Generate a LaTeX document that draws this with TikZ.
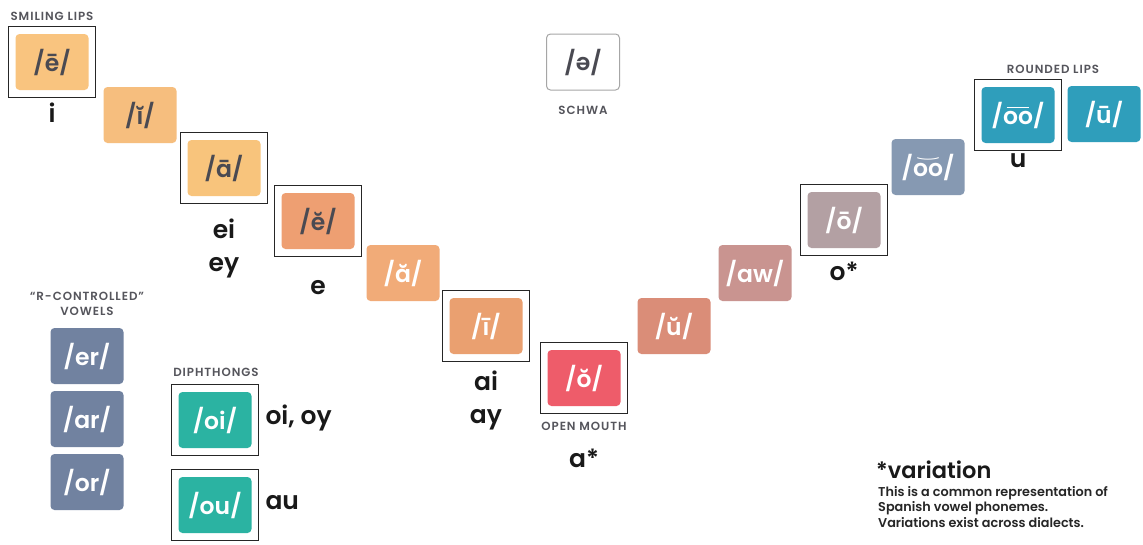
\documentclass[tikz,border=0pt]{standalone}
\usepackage{fontspec}
\usepackage{graphicx}
\setmainfont{Poppins}
\newfontfamily\semifont{Poppins SemiBold}
\newfontfamily\capfont{Poppins SemiBold}[LetterSpace=8]
\usetikzlibrary{fit}

% macron / breve spanning two letters
\newcommand\dmac[1]{\setbox0\hbox{#1}\makebox[0pt][l]{\hspace{0.12\wd0}\raisebox{0.66em}{\rule{0.76\wd0}{0.075em}}}\box0}
\newcommand\dbrv[1]{\setbox0\hbox{#1}\makebox[0pt][l]{\hspace{0.14\wd0}\raisebox{0.6em}{\resizebox*{0.72\wd0}{0.18em}{\rotatebox[origin=c]{-90}{)}}}}\box0}
\newcommand\schwa{\rotatebox[origin=c]{180}{e}}

\definecolor{darktxt}{HTML}{4A4A52}
\definecolor{captxt}{HTML}{55555C}
\definecolor{cEe}{HTML}{F9C47F}
\definecolor{cIi}{HTML}{F6BE7E}
\definecolor{cAa}{HTML}{F8C47C}
\definecolor{cEb}{HTML}{EE9F72}
\definecolor{cAb}{HTML}{F1AB78}
\definecolor{cIl}{HTML}{EAA070}
\definecolor{cOb}{HTML}{EE5C6A}
\definecolor{cUb}{HTML}{DA8D78}
\definecolor{cAw}{HTML}{C99490}
\definecolor{cOl}{HTML}{B3A0A3}
\definecolor{cOOs}{HTML}{8699B2}
\definecolor{cOOl}{HTML}{2F9EBB}
\definecolor{cR}{HTML}{7182A0}
\definecolor{cDi}{HTML}{2BB3A2}

\begin{document}
\begin{tikzpicture}[x=1pt,y=-1pt,
  vbox/.style={rounded corners=4pt, minimum width=73pt, minimum height=56pt,
    inner sep=0pt, text=white, font=\semifont\fontsize{23.5}{23.5}\selectfont},
  darkbox/.style={vbox, text=darktxt},
  frame/.style={draw=black!85, line width=1.3pt, inner sep=7pt},
  spell/.style={font=\semifont\fontsize{25}{33}\selectfont, text=black!90, align=center},
  caps/.style={font=\capfont\fontsize{11.8}{15}\selectfont, text=captxt, align=center},
  note/.style={font=\semifont\fontsize{12.8}{15}\selectfont, text=black!85, anchor=west, inner sep=0pt}]
\useasboundingbox (0,0) rectangle (1143,544);
\fill[white] (0,0) rectangle (1143,544);

% the vowel valley, from smiling lips to rounded lips
\node[darkbox, fill=cEe] (ee) at (52,62) {/ē/};
\node[darkbox, fill=cIi] (ib) at (140,115) {/ĭ/};
\node[darkbox, fill=cAa] (al) at (224,168) {/ā/};
\node[darkbox, fill=cEb] (eb) at (318,221) {/ĕ/};
\node[vbox, fill=cAb] (ab) at (403,273) {/ă/};
\node[vbox, fill=cIl] (il) at (486,326) {/ī/};
\node[vbox, fill=cOb] (ob) at (584,378) {/ŏ/};
\node[vbox, fill=cUb] (ub) at (674,326) {/ŭ/};
\node[vbox, fill=cAw] (aw) at (755,273) {/aw/};
\node[vbox, fill=cOl] (ol) at (844,220) {/ō/};
\node[vbox, fill=cOOs] (oos) at (928,167) {/\dbrv{oo}/};
\node[vbox, fill=cOOl] (ool) at (1018,115) {/\dmac{oo}/};
\node[vbox, fill=cOOl] (ul) at (1104,114) {/ū/};

% schwa
\node[darkbox, fill=white, draw=black!35, line width=1pt] (schwa) at (583,62) {/\schwa/};
\node[caps] (schwalbl) at (583,110) {SCHWA};

% frames around the Spanish vowels
\node[frame, fit=(ee)] (fee) {};
\node[frame, fit=(al)] (fal) {};
\node[frame, fit=(eb)] (feb) {};
\node[frame, fit=(il)] (fil) {};
\node[frame, fit=(ob)] (fob) {};
\node[frame, fit=(ol)] (fol) {};
\node[frame, fit=(ool)] (fool) {};

% captions
\node[caps] (smile) at (52,16) {SMILING LIPS};
\node[caps] (round) at (1053,69) {ROUNDED LIPS};
\node[caps] (open) at (584,426) {OPEN MOUTH};

% Spanish spellings
\node[spell] (si) at (52,113) {i};
\node[spell] (sei) at (224,248) {ei\\ey};
\node[spell] (se) at (318,288) {e};
\node[spell] (sai) at (486,400) {ai\\ay};
\node[spell] (sa) at (584,458) {a*};
\node[spell] (so) at (844,271) {o*};
\node[spell] (su) at (1018,161) {u};

% r-controlled vowels
\node[caps] (rlbl) at (87,304) {“R-CONTROLLED”\\VOWELS};
\node[vbox, fill=cR] (er) at (87,356) {/er/};
\node[vbox, fill=cR] (ar) at (87,419) {/ar/};
\node[vbox, fill=cR] (or) at (87,482) {/or/};

% diphthongs
\node[caps] (dlbl) at (216,372) {DIPHTHONGS};
\node[vbox, fill=cDi] (oi) at (215,420) {/oi/};
\node[vbox, fill=cDi] (ou) at (215,505) {/ou/};
\node[frame, fit=(oi)] (foi) {};
\node[frame, fit=(ou)] (fou) {};
\node[spell, anchor=west] (soi) at (262,418) {oi, oy};
\node[spell, anchor=west] (sou) at (262,503) {au};

% footnote
\node[anchor=west, inner sep=0pt, font=\semifont\fontsize{22.5}{22.5}\selectfont, text=black!90] (var) at (876,470) {*variation};
\node[note] (n1) at (878,493) {This is a common representation of};
\node[note] (n2) at (878,508) {Spanish vowel phonemes.};
\node[note] (n3) at (878,523) {Variations exist across dialects.};
\end{tikzpicture}
\end{document}
